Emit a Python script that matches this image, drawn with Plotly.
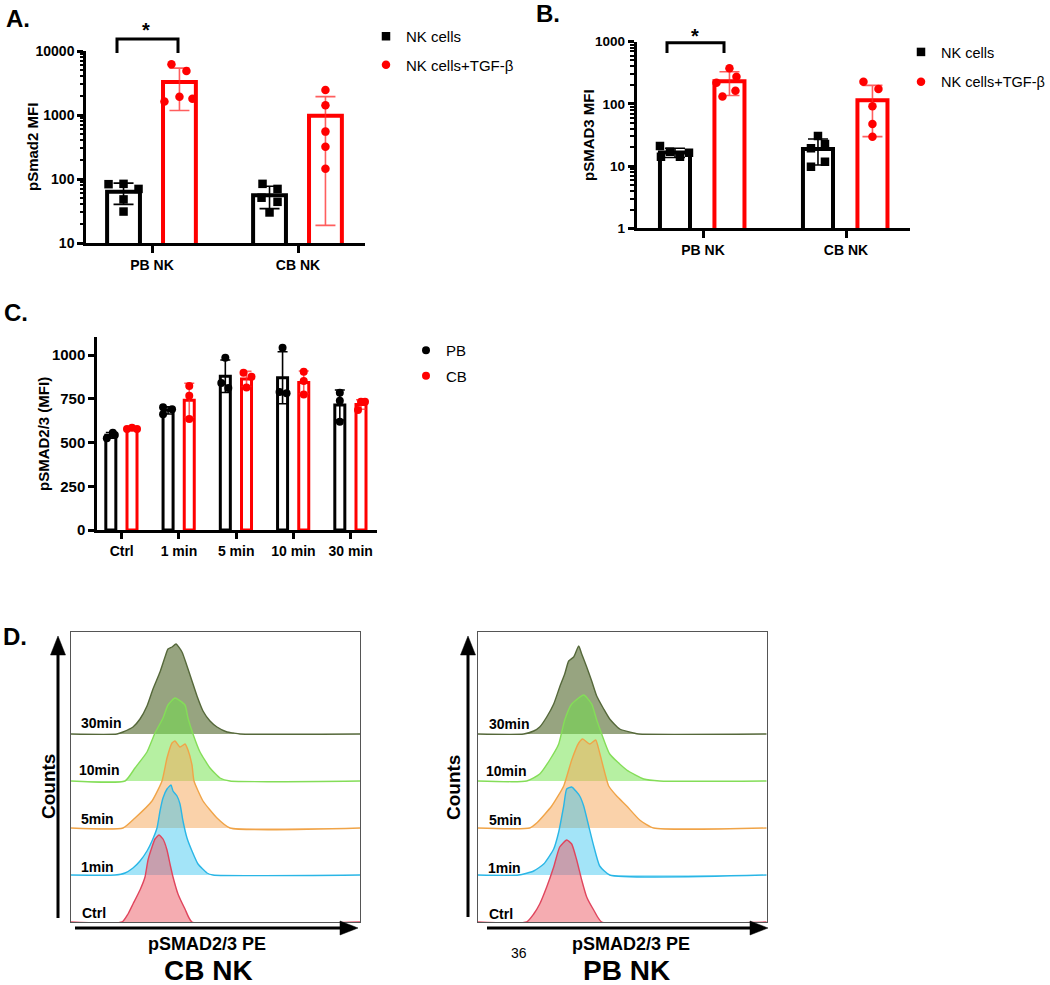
import numpy as np
import plotly.graph_objects as go

W, H = 1050, 985
FONT = "Liberation Sans, Arial, Helvetica, sans-serif"

# ---------------- data ----------------
A_groups = ["PB NK", "CB NK"]
A_series = ["NK cells", "NK cells+TGF-β"]
A_nk = [[83, 84, 70, 48, 31], [84, 70, 51, 44, 30]]
A_tgf = [[6200, 4870, 1620, 1930, 1800], [2450, 1420, 550, 320, 145]]
A_ticks = [10, 100, 1000, 10000]

B_groups = ["PB NK", "CB NK"]
B_series = ["NK cells", "NK cells+TGF-β"]
B_nk = [[21, 17, 14.2, 16.4, 14.2], [30.5, 19.3, 22.7, 11.8, 9.8]]
B_tgf = [[373, 274, 219, 163, 131], [227, 174, 92, 47.5, 29.7]]
B_ticks = [1, 10, 100, 1000]

C_groups = ["Ctrl", "1 min", "5 min", "10 min", "30 min"]
C_series = ["PB", "CB"]
C_pb = [[524, 556, 543], [701, 690, 661], [985, 840, 812], [1042, 788, 781], [785, 739, 619]]
C_cb = [[577, 585, 577], [823, 767, 634], [899, 876, 815], [905, 851, 775], [686, 733, 733]]
C_ticks = [0, 250, 500, 750, 1000]

D_times = ["30min", "10min", "5min", "1min", "Ctrl"]
D_cb_x = [
    [46, 52, 62, 69, 76, 82, 89, 94, 97, 101, 105, 111, 116, 121, 126, 132, 139, 146, 156, 162, 169],
    [54, 64, 76, 84, 92, 97, 104, 114, 117, 122, 129, 139, 149, 159],
    [52, 64, 81, 91, 96, 101, 104, 109, 114, 117, 121, 123, 132, 146, 159],
    [44, 54, 62, 69, 76, 81, 86, 89, 92, 96, 100, 102, 106, 109, 112, 116, 121, 127, 136, 142],
    [51, 57, 62, 69, 74, 77, 81, 84, 88, 92, 96, 99, 102, 107, 114, 121],
]
D_cb_counts = [
    [0, 2, 7, 15, 28, 45, 62, 77, 85, 87, 90, 82, 68, 53, 38, 23, 13, 7, 2, 1, 0],
    [0, 13, 29, 48, 63, 76, 83, 76, 63, 47, 29, 13, 3, 0],
    [0, 10, 27, 47, 70, 85, 87, 81, 84, 78, 63, 47, 27, 10, 0],
    [0, 2, 7, 14, 24, 34, 47, 64, 77, 86, 90, 84, 79, 71, 54, 37, 24, 11, 2, 0],
    [0, 8, 18, 32, 45, 62, 75, 83, 87, 83, 72, 58, 45, 28, 13, 0],
]
D_pb_x = [
    [46, 56, 62, 69, 76, 82, 87, 91, 96, 101, 104, 109, 114, 119, 126, 132, 142, 156, 161],
    [49, 62, 72, 81, 87, 94, 106, 114, 119, 124, 132, 149, 166, 182],
    [52, 59, 74, 86, 94, 101, 105, 112, 118, 122, 131, 139, 149, 162, 176],
    [41, 56, 66, 76, 81, 86, 89, 94, 99, 102, 106, 111, 116, 122, 132],
    [49, 56, 62, 69, 76, 82, 89, 94, 99, 104, 109, 116, 124],
]
D_pb_counts = [
    [0, 3, 7, 17, 30, 47, 60, 73, 77, 88, 80, 67, 53, 38, 25, 15, 5, 1, 0],
    [0, 7, 21, 37, 61, 77, 86, 77, 61, 47, 27, 11, 2, 0],
    [0, 5, 22, 42, 68, 85, 89, 84, 88, 75, 42, 32, 22, 8, 0],
    [0, 4, 11, 26, 43, 69, 86, 88, 83, 79, 69, 49, 29, 9, 0],
    [0, 8, 18, 35, 55, 75, 82, 78, 62, 42, 25, 12, 0],
]

# ---------------- style ----------------
BLACK, RED = "#000000", "#ff0000"
RED_ERR = "rgba(255,40,40,0.75)"
A_jit = [[[-15, 0, 15, 0, 0], [-7, 8, -8, 8, 0]], [[-8, 7, -15, 0, 13], [0, 0, 0, 0, 0]]]
B_jit = [[[-15, -5, 5, 14, -14], [0, -7, 7, 7, -7]], [[0, 7, -13, 6, -7], [-9, 6, 0, 0, 0]]]
C_jit = [[[-4, 2, 4], [-5, 4, -5], [0, -4, 3], [0, -3, 4], [0, 0, 0]],
         [[-5, 0, 5], [0, 0, 0], [-3, 5, 0], [0, 0, 0], [-3, 0, 4]]]
D_line = ["#55683a", "#84dd58", "#f0a448", "#2ab6e6", "#e0455d"]
D_fill = ["rgba(95,115,60,0.65)", "rgba(110,225,70,0.5)", "rgba(245,165,85,0.5)",
          "rgba(50,195,240,0.45)", "rgba(235,90,100,0.5)"]
D_step = 47


def fx(p):
    return p / W


def fy(p):
    return 1 - p / H


def log_minor(lo, hi):
    return [k * 10 ** e for e in range(lo, hi) for k in range(2, 10)]


fig = go.Figure()


def bar_panel(xa, ya, groups, series_vals, names, spacing, offsets, width, lw,
              symbols, jit, legend, cap, msize):
    colors = [BLACK, RED]
    errc = [BLACK, RED_ERR]
    stats = []
    for s, vals in enumerate(series_vals):
        xs = [i + offsets[s] for i in range(len(groups))]
        means = [float(np.mean(v)) for v in vals]
        sds = [float(np.std(v, ddof=1)) for v in vals]
        stats.append((xs, means, sds))
        fig.add_trace(go.Bar(x=xs, y=means, width=width, xaxis=xa, yaxis=ya,
                             marker=dict(color="white", line=dict(color=colors[s], width=lw)),
                             showlegend=False, hoverinfo="skip"))
    for s, (xs, means, sds) in enumerate(stats):
        fig.add_trace(go.Scatter(x=xs, y=means, xaxis=xa, yaxis=ya, mode="markers",
                                 marker=dict(size=1, color="rgba(0,0,0,0)"),
                                 error_y=dict(type="data", array=sds, visible=True,
                                              color=errc[s], thickness=1.6, width=cap),
                                 showlegend=False, hoverinfo="skip"))
    for s, vals in enumerate(series_vals):
        px_, py_ = [], []
        for i, v in enumerate(vals):
            for k, val in enumerate(v):
                px_.append(i + offsets[s] + jit[s][i][k] / spacing)
                py_.append(val)
        fig.add_trace(go.Scatter(x=px_, y=py_, xaxis=xa, yaxis=ya, mode="markers",
                                 name=names[s], legend=legend, legendgroup=legend + str(s),
                                 marker=dict(symbol=symbols[s], size=msize, color=colors[s]),
                                 hoverinfo="skip"))


bar_panel("x", "y", A_groups, [A_nk, A_tgf], A_series, 146, [-0.195, 0.188], 0.225, 4,
          ["square", "circle"], A_jit, "legend", 10, 8.5)
bar_panel("x2", "y2", B_groups, [B_nk, B_tgf], B_series, 143, [-0.196, 0.185], 0.21, 4,
          ["square", "circle"], B_jit, "legend2", 10, 8.5)
bar_panel("x3", "y3", C_groups, [C_pb, C_cb], C_series, 57.25, [-0.19, 0.18], 0.175, 3,
          ["circle", "circle"], C_jit, "legend3", 5, 8)

# ---------- flow histograms ----------
for ax, xs_all, cs_all in (("4", D_cb_x, D_cb_counts), ("5", D_pb_x, D_pb_counts)):
    n = len(D_times)
    for j in range(n):
        base = (n - 1 - j) * D_step
        xs = [0] + xs_all[j] + [289]
        ys = [base] + [base + c for c in cs_all[j]] + [base]
        fig.add_trace(go.Scatter(x=xs, y=ys, xaxis="x" + ax, yaxis="y" + ax, mode="lines",
                                 line=dict(color=D_line[j], width=1.4, shape="spline", smoothing=0.5),
                                 fill="toself", fillcolor=D_fill[j], showlegend=False,
                                 hoverinfo="skip"))


def tfont(size):
    return dict(family=FONT, size=size, color="black", weight="bold")


base_ax = dict(showline=True, linecolor="black", linewidth=2.5, ticks="outside",
               tickcolor="black", tickwidth=2.5, ticklen=6, showgrid=False,
               zeroline=False, tickfont=tfont(14), fixedrange=True)


def minor(lo, hi):
    return dict(ticks="outside", ticklen=3.5, tickwidth=1.5, tickcolor="black",
                tickmode="array", tickvals=log_minor(lo, hi), showgrid=False)


box_ax = dict(showline=True, mirror=True, linecolor="#555555", linewidth=1, ticks="",
              showticklabels=False, showgrid=False, zeroline=False, fixedrange=True)

fig.update_layout(
    width=W, height=H, margin=dict(l=0, r=0, t=0, b=0, pad=0, autoexpand=False),
    paper_bgcolor="white", plot_bgcolor="white", barmode="overlay",
    font=dict(family=FONT, color="black"),
    xaxis=dict(base_ax, domain=[fx(86), fx(365)], range=[-(152 - 86) / 146, (365 - 152) / 146],
               tickmode="array", tickvals=[0, 1], ticktext=A_groups, ticklen=7, anchor="y"),
    yaxis=dict(base_ax, domain=[fy(243), fy(51)], type="log", range=[1, 4],
               tickmode="array", tickvals=A_ticks, ticktext=[str(t) for t in A_ticks],
               minor=minor(1, 4), anchor="x"),
    xaxis2=dict(base_ax, domain=[fx(636.5), fx(910)], range=[-(703 - 636.5) / 143, (910 - 703) / 143],
                tickmode="array", tickvals=[0, 1], ticktext=B_groups, ticklen=7, anchor="y2"),
    yaxis2=dict(base_ax, domain=[fy(228.3), fy(41.7)], type="log", range=[0, 3],
                tickmode="array", tickvals=B_ticks, ticktext=[str(t) for t in B_ticks],
                minor=minor(0, 3), anchor="x2", tickfont=tfont(13.5)),
    xaxis3=dict(base_ax, domain=[fx(97), fx(377)], range=[-(121.7 - 97) / 57.25, (377 - 121.7) / 57.25],
                tickmode="array", tickvals=list(range(len(C_groups))), ticktext=C_groups, ticklen=6,
                anchor="y3"),
    yaxis3=dict(base_ax, domain=[fy(530), fy(337)], range=[0, 1103], tickmode="array",
                tickvals=C_ticks, ticktext=[str(t) for t in C_ticks], anchor="x3", tickfont=tfont(15)),
    xaxis4=dict(box_ax, domain=[fx(71), fx(360)], range=[0, 289], anchor="y4"),
    yaxis4=dict(box_ax, domain=[fy(922), fy(632)], range=[0, 290], anchor="x4"),
    xaxis5=dict(box_ax, domain=[fx(477.7), fx(766.7)], range=[0, 289], anchor="y5"),
    yaxis5=dict(box_ax, domain=[fy(922), fy(632)], range=[0, 290], anchor="x5"),
    legend=dict(x=fx(366), y=fy(20), xanchor="left", yanchor="top", bgcolor="rgba(0,0,0,0)",
                traceorder="grouped", font=dict(family=FONT, size=15, color="black"), tracegroupgap=6),
    legend2=dict(x=fx(901), y=fy(36), xanchor="left", yanchor="top", bgcolor="rgba(0,0,0,0)",
                 traceorder="grouped", font=dict(family=FONT, size=14.5, color="black"), tracegroupgap=8),
    legend3=dict(x=fx(406), y=fy(334), xanchor="left", yanchor="top", bgcolor="rgba(0,0,0,0)",
                 traceorder="grouped", font=dict(family=FONT, size=15, color="black"), tracegroupgap=3),
)

ann = []


def text(x, y, t, size, bold=True, angle=0, xanchor="center"):
    ann.append(dict(x=fx(x), y=fy(y), xref="paper", yref="paper", text=t, showarrow=False,
                    textangle=angle, xanchor=xanchor, yanchor="middle",
                    font=dict(family=FONT, size=size, color="black",
                              weight="bold" if bold else "normal")))


text(18, 18, "A.", 24)
text(548, 13, "B.", 24)
text(16, 312, "C.", 24)
text(15, 636, "D.", 24)
text(32, 147, "pSmad2 MFI", 15, angle=-90)
text(589, 135, "pSMAD3 MFI", 15, angle=-90)
text(43, 434, "pSMAD2/3 (MFI)", 15, angle=-90)
text(146, 30, "*", 20)
text(695, 36, "*", 20)
text(48, 787, "Counts", 19, angle=-90)
text(453, 788, "Counts", 19, angle=-90)
text(207, 944, "pSMAD2/3 PE", 18)
text(631, 944, "pSMAD2/3 PE", 18)
text(208, 970, "CB NK", 28)
text(626, 970, "PB NK", 28)
text(519, 953, "36", 14, bold=False)
lab_left = [(79, 723), (77, 770), (79, 819), (79, 867), (80, 913)]
lab_right = [(487, 724), (484, 771), (487, 820), (486, 868), (487, 914)]
for t, (a, b), (c, d) in zip(D_times, lab_left, lab_right):
    text(a, b, t, 14, xanchor="left")
    text(c, d, t, 14, xanchor="left")

shapes = []


def pline(pts, width=3, color="black"):
    path = "M " + " L ".join(f"{fx(a)},{fy(b)}" for a, b in pts)
    shapes.append(dict(type="path", xref="paper", yref="paper", path=path,
                       line=dict(color=color, width=width)))


def tri(pts):
    path = "M " + " L ".join(f"{fx(a)},{fy(b)}" for a, b in pts) + " Z"
    shapes.append(dict(type="path", xref="paper", yref="paper", path=path,
                       fillcolor="black", line=dict(color="black", width=0.5)))


# significance brackets
pline([(117, 53), (117, 39), (178, 39), (178, 53)])
pline([(667, 53), (667, 42.7), (724, 42.7), (724, 53)])

# flow arrows
for vx, vb, hx0, htip in ((58, 918, 75, 358), (468, 917, 487, 768)):
    pline([(vx, vb), (vx, 650)], width=3)
    tri([(vx - 7.5, 655), (vx, 636), (vx + 7.5, 655)])
    pline([(hx0, 928), (htip - 15, 928)], width=3)
    tri([(htip - 18, 921), (htip, 928), (htip - 18, 935)])

fig.update_layout(annotations=ann, shapes=shapes)
fig.write_html("out.html", config={"displayModeBar": False},
               post_script="document.body.style.margin='0';document.body.style.overflow='hidden';")
